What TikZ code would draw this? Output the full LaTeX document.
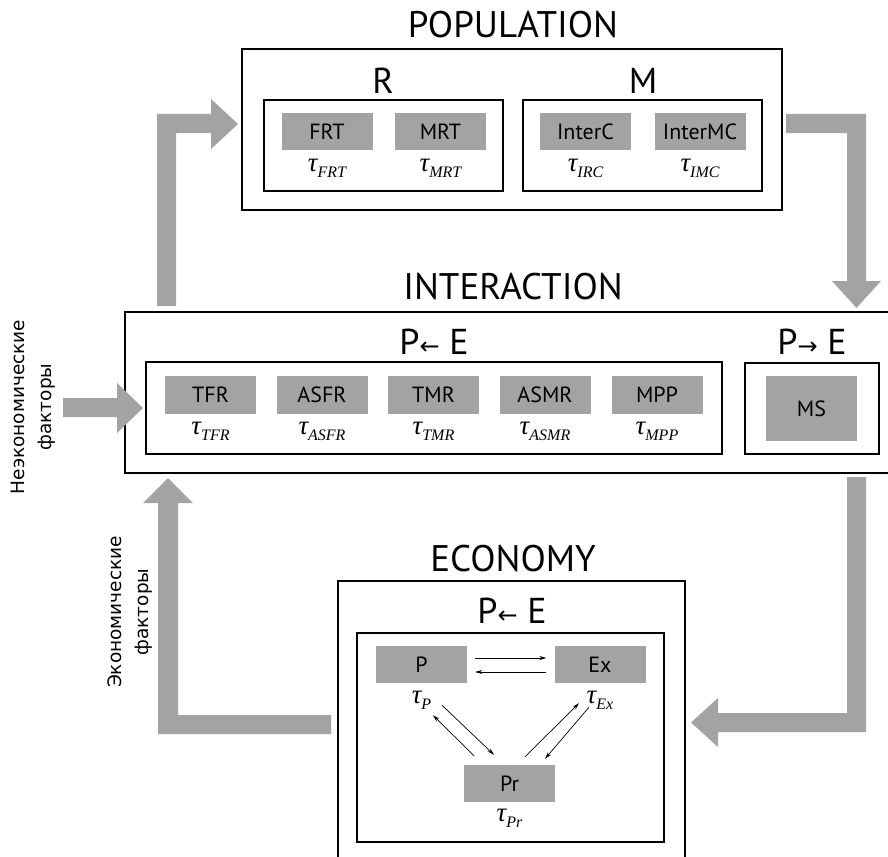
\documentclass[tikz,border=0pt]{standalone}
\usepackage{fontspec}
\setmainfont{PT Sans}
\newfontfamily\rus{DejaVu Sans}
\newfontfamily\tnr{Liberation Serif}
\usetikzlibrary{arrows.meta,positioning}
\definecolor{cellgray}{RGB}{163,163,163}
\newcommand\tsub[1]{{\tnr\itshape\fontsize{27}{28}\selectfont τ\raisebox{-0.45ex}{\fontsize{16}{16}\selectfont #1}}}
\newcommand\arr[1]{{\rus\fontsize{24}{24}\selectfont #1}}
\begin{document}
\begin{tikzpicture}[x=1pt,y=-1pt,
	panel/.style={draw,line width=1.2pt,inner sep=0pt},
	frame/.style={draw,line width=1.1pt,inner sep=0pt},
	cell/.style={fill=cellgray,minimum width=91,minimum height=37,inner sep=0pt,font=\fontsize{22}{24}\selectfont},
	ttl/.style={font=\fontsize{37}{39}\selectfont},
	hd/.style={font=\fontsize{36}{38}\selectfont},
	tau/.style={inner sep=0pt},
	bigarrow/.style={fill=cellgray},
	link/.style={-{Stealth[length=7pt,width=4pt]},line width=0.7pt},
	side/.style={font=\rus\fontsize{18.5}{27}\selectfont,rotate=90,align=center}]
	\useasboundingbox(0,0)rectangle(888,856);
	\clip(0,0)rectangle(888,856);
	% population
	\node[ttl](poptitle)at(513,25){POPULATION};
	\node[panel,minimum width=540,minimum height=161](pop)at(512,129.5){};
	\node[hd](rl)at(383,81){R};
	\node[hd](ml)at(643,81){M};
	\node[frame,minimum width=239,minimum height=91](rbox)at(383.5,145.5){};
	\node[frame,minimum width=239,minimum height=91](mbox)at(642.5,145.5){};
	\node[cell](frt)at(327,131.5){FRT};
	\node[cell](mrt)at(440.5,131.5){MRT};
	\node[cell](interc)at(585.5,131.5){InterC};
	\node[cell](intermc)at(700,131.5){InterMC};
	\node[tau,below=9pt of frt]{\tsub{FRT}};
	\node[tau,below=9pt of mrt]{\tsub{MRT}};
	\node[tau,below=9pt of interc]{\tsub{IRC}};
	\node[tau,below=9pt of intermc]{\tsub{IMC}};
	% interaction
	\node[ttl](inttitle)at(513,287){INTERACTION};
	\node[panel,minimum width=775,minimum height=161](inter)at(512.5,392.5){};
	\node[hd](pel)at(434,342){P\arr{←} E};
	\node[hd](epl)at(812,342){P\arr{→} E};
	\node[frame,minimum width=576,minimum height=92](pebox)at(434,408){};
	\node[frame,minimum width=134,minimum height=91](msbox)at(812,408.5){};
	\node[cell,minimum height=65](ms)at(811.5,408.5){MS};
	\node[cell,minimum height=38](tfr)at(210.5,395){TFR};
	\node[cell,minimum height=38](asfr)at(322,395){ASFR};
	\node[cell,minimum height=38](tmr)at(433.5,395){TMR};
	\node[cell,minimum height=38](asmr)at(545,395){ASMR};
	\node[cell,minimum height=38](mpp)at(657,395){MPP};
	\node[tau,below=8pt of tfr]{\tsub{TFR}};
	\node[tau,below=8pt of asfr]{\tsub{ASFR}};
	\node[tau,below=8pt of tmr]{\tsub{TMR}};
	\node[tau,below=8pt of asmr]{\tsub{ASMR}};
	\node[tau,below=8pt of mpp]{\tsub{MPP}};
	% economy
	\node[ttl](ecotitle)at(513,559){ECONOMY};
	\node[panel,minimum width=347,minimum height=289](eco)at(511.5,725.5){};
	\node[hd](epe)at(512,611){P\arr{←} E};
	\node[frame,minimum width=307,minimum height=209](ebox)at(510.5,737.5){};
	\node[cell](p)at(421.5,664.5){P};
	\node[cell](ex)at(600,664.5){Ex};
	\node[cell](pr)at(509.5,783.5){Pr};
	\node[tau,below=8pt of p]{\tsub{P}};
	\node[tau,below=8pt of ex]{\tsub{Ex}};
	\node[tau,below=7pt of pr]{\tsub{Pr}};
	\draw[link]([xshift=8,yshift=6.5]p.east)--([xshift=-8,yshift=6.5]ex.west);
	\draw[link]([xshift=-8,yshift=-7.5]ex.west)--([xshift=8,yshift=-7.5]p.east);
	\draw[link]([shift={(20.5,22)}]p.south)--([shift={(-15.5,-10)}]pr.north);
	\draw[link]([shift={(-35.5,-9)}]pr.north)--([shift={(11.5,32)}]p.south);
	\draw[link]([shift={(15.5,-8)}]pr.north)--([shift={(-21,20)}]ex.south);
	\draw[link]([shift={(-11,24)}]ex.south)--([shift={(35.5,-6)}]pr.north);
	% big arrows
	\fill[bigarrow](157,306)--(157,114)--(211,114)--(211,99)--(238,124)--(211,149)--(211,133)--(176,133)--(176,306)--cycle;
	\fill[bigarrow](786,114)--(866,114)--(866,281)--(881,281)--(856.5,308)--(832,281)--(847,281)--(847,133)--(786,133)--cycle;
	\fill[bigarrow](847,477)--(866,477)--(866,732)--(718,732)--(718,747)--(691,722.5)--(718,698)--(718,713)--(847,713)--cycle;
	\fill[bigarrow](331,715)--(331,734)--(158,734)--(158,503)--(143,503)--(168,478)--(193,503)--(178,503)--(178,715)--cycle;
	\fill[bigarrow](63,398)--(117,398)--(117,383)--(143,408)--(117,433)--(117,417)--(63,417)--cycle;
	% side texts
	\node[side](nonecon)at(33,407){Неэкономические\\факторы};
	\node[side](econ)at(130,612){Экономические\\факторы};
\end{tikzpicture}
\end{document}
